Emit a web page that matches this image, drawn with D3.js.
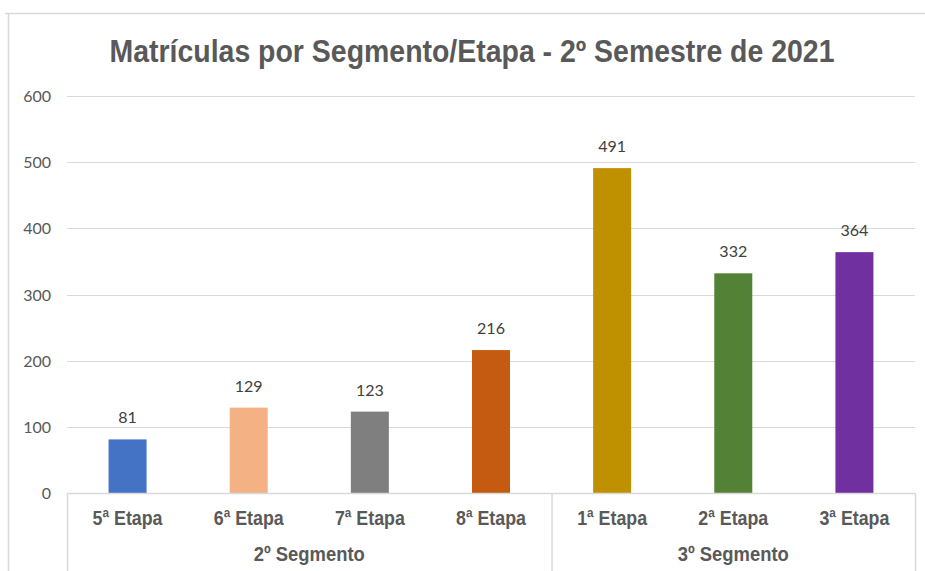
<!DOCTYPE html>
<html>
<head>
  <meta charset="UTF-8" />
  <title>Matrículas por Segmento/Etapa</title>
  <script src="https://d3js.org/d3.v7.min.js"></script>
  <style>
    body { margin: 0; background: #fff; }
    .grid line { stroke: #d9d9d9; stroke-width: 1; }
    .tick-label { font-family: Lato, "Open Sans", sans-serif; font-size: 16px; fill: #595959; }
    .value { font-family: Lato, "Open Sans", sans-serif; font-size: 16px; fill: #404040; }
    .cat { font-family: "Liberation Sans", Arial, sans-serif; font-weight: bold; font-size: 20px; fill: #595959; }
  </style>
</head>
<body>
<svg id="chart" width="925" height="571"></svg>
<script>
  // dados
  const etapas = ["5ª Etapa", "6ª Etapa", "7ª Etapa", "8ª Etapa", "1ª Etapa", "2ª Etapa", "3ª Etapa"];
  const matriculas = [81, 129, 123, 216, 491, 332, 364];
  const segmentos = ["2º Segmento", "3º Segmento"];
  const cores = ["#4472C4", "#F4B183", "#7F7F7F", "#C55A11", "#BF9000", "#538135", "#7030A0"];
  const yTicks = [0, 100, 200, 300, 400, 500, 600];

  const svg = d3.select("#chart");
  const mLeft = 67, mRight = 915, mTop = 96, mBottom = 493;

  const x = d3.scaleBand().domain(etapas).range([mLeft, mRight]).paddingInner(0).paddingOuter(0);
  const y = d3.scaleLinear().domain([0, 600]).range([mBottom, mTop]);
  const barW = 38;

  // moldura externa
  svg.append("line").attr("x1", 5).attr("x2", 925).attr("y1", 13.5).attr("y2", 13.5)
    .attr("stroke", "#d9d9d9").attr("stroke-width", 1.5);
  svg.append("line").attr("x1", 8.5).attr("x2", 8.5).attr("y1", 13).attr("y2", 571)
    .attr("stroke", "#d9d9d9").attr("stroke-width", 1.5);

  // título
  svg.append("text")
    .attr("x", 472).attr("y", 62)
    .attr("text-anchor", "middle")
    .attr("font-family", "'Liberation Sans', Arial, sans-serif")
    .attr("font-weight", "bold")
    .attr("font-size", 31)
    .attr("fill", "#595959")
    .attr("textLength", 725)
    .attr("lengthAdjust", "spacingAndGlyphs")
    .text("Matrículas por Segmento/Etapa - 2º Semestre de 2021");

  // grade
  const grid = svg.append("g").attr("class", "grid");
  grid.selectAll("line").data(yTicks.filter(d => d > 0)).enter().append("line")
    .attr("x1", mLeft).attr("x2", mRight)
    .attr("y1", d => Math.round(y(d)) + 0.5).attr("y2", d => Math.round(y(d)) + 0.5);

  svg.selectAll(".tick-label").data(yTicks).enter().append("text")
    .attr("class", "tick-label")
    .attr("x", 51).attr("y", d => y(d) + 6)
    .attr("text-anchor", "end")
    .text(d => d);

  // barras
  svg.selectAll(".bar").data(matriculas).enter().append("rect")
    .attr("class", "bar")
    .attr("x", (d, i) => x(etapas[i]) + x.bandwidth() / 2 - barW / 2)
    .attr("width", barW)
    .attr("y", d => y(d))
    .attr("height", d => y(0) - y(d))
    .attr("fill", (d, i) => cores[i]);

  svg.selectAll(".value").data(matriculas).enter().append("text")
    .attr("class", "value")
    .attr("x", (d, i) => x(etapas[i]) + x.bandwidth() / 2)
    .attr("y", d => y(d) - 16)
    .attr("text-anchor", "middle")
    .text(d => d);

  // eixo de categorias (multinível)
  const axisColor = "#d9d9d9";
  svg.append("line").attr("x1", mLeft).attr("x2", mRight).attr("y1", mBottom + 0.5).attr("y2", mBottom + 0.5)
    .attr("stroke", axisColor).attr("stroke-width", 1.5);
  const bounds = [0, 4, 7].map(k => k < etapas.length ? x(etapas[k]) : mRight);
  svg.selectAll(".sep").data(bounds).enter().append("line")
    .attr("x1", d => d + 0.5).attr("x2", d => d + 0.5)
    .attr("y1", mBottom).attr("y2", 571)
    .attr("stroke", axisColor).attr("stroke-width", 1.5);

  function condense(sel, f) {
    sel.each(function() {
      const w = this.getComputedTextLength();
      d3.select(this).attr("textLength", w * f).attr("lengthAdjust", "spacingAndGlyphs");
    });
  }

  svg.selectAll(".cat-e").data(etapas).enter().append("text")
    .attr("class", "cat")
    .attr("x", d => x(d) + x.bandwidth() / 2)
    .attr("y", 525)
    .attr("text-anchor", "middle")
    .text(d => d)
    .call(condense, 0.89);

  svg.selectAll(".cat-s").data(segmentos).enter().append("text")
    .attr("class", "cat")
    .attr("x", (d, i) => (bounds[i] + bounds[i + 1]) / 2)
    .attr("y", 561)
    .attr("text-anchor", "middle")
    .text(d => d)
    .call(condense, 0.92);
</script>
</body>
</html>
